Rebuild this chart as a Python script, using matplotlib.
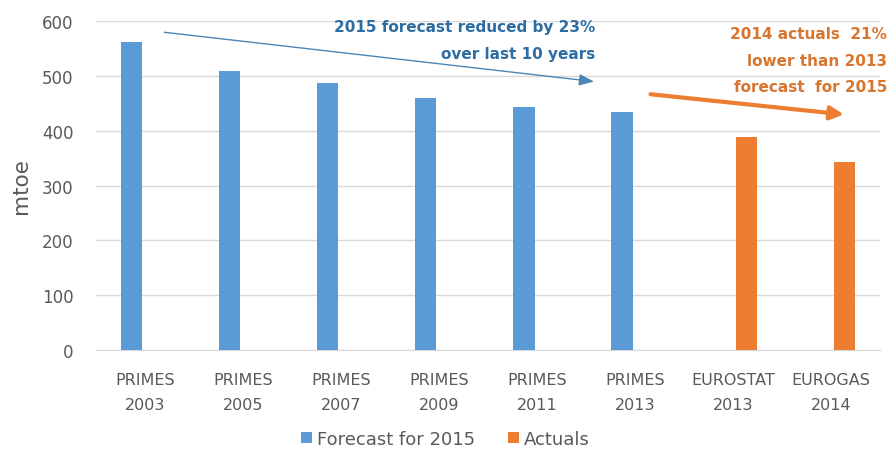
import matplotlib
matplotlib.use("Agg")
import matplotlib.pyplot as plt
import numpy as np

categories = ["PRIMES\n2003", "PRIMES\n2005", "PRIMES\n2007", "PRIMES\n2009",
              "PRIMES\n2011", "PRIMES\n2013", "EUROSTAT\n2013", "EUROGAS\n2014"]
forecast = [562, 509, 487, 460, 443, 434, None, None]
actuals = [None, None, None, None, None, None, 388, 343]
yticks = [0, 100, 200, 300, 400, 500, 600]

plt.rcParams['font.family'] = ['DejaVu Sans']
blue = "#5B9BD5"
orange = "#ED7D31"
gray = "#595959"

fig = plt.figure(figsize=(8.91, 4.64), dpi=100)
ax = fig.add_axes([0.1077, 0.2435, 0.8800, 0.7091])

x = np.arange(len(categories))
w = 0.215
off = 0.133
fx = [xi - off for xi, v in zip(x, forecast) if v is not None]
fv = [v for v in forecast if v is not None]
axx = [xi + off for xi, v in zip(x, actuals) if v is not None]
av = [v for v in actuals if v is not None]
b1 = ax.bar(fx, fv, width=w, color=blue, label="Forecast for 2015", zorder=3)
b2 = ax.bar(axx, av, width=w, color=orange, label="Actuals", zorder=3)

ax.set_xlim(-0.5, len(categories) - 0.5)
ax.set_ylim(0, 600)
ax.set_yticks(yticks)
ax.yaxis.grid(True, color="#D9D9D9", linewidth=1, zorder=0)
ax.set_axisbelow(True)
for s in ["top", "right", "left"]:
    ax.spines[s].set_visible(False)
ax.spines["bottom"].set_color("#D9D9D9")
ax.tick_params(axis="y", length=0, colors=gray, labelsize=12, pad=16)
ax.tick_params(axis="x", length=0, colors=gray, labelsize=11.5, pad=16)
ax.set_xticks(x)
ax.set_xticklabels(categories, linespacing=1.85)
ax.set_ylabel("mtoe", color=gray, fontsize=15.5, labelpad=8)

# Annotations
ax.annotate("", xy=(4.61, 489), xytext=(0.17, 580),
            arrowprops=dict(arrowstyle="-|>,head_length=0.9,head_width=0.35",
                            color="#4A86B8", lw=1.0))
ax.text(4.59, 603, "2015 forecast reduced by 23%\nover last 10 years",
        ha="right", va="top", color="#2E6DA4", fontsize=11,
        fontweight="bold", linespacing=1.95)

ax.annotate("", xy=(7.16, 429), xytext=(5.13, 467),
            arrowprops=dict(arrowstyle="-|>,head_length=0.8,head_width=0.4",
                            color=orange, lw=3.0))
ax.text(7.57, 590, "2014 actuals  21%\nlower than 2013\nforecast  for 2015",
        ha="right", va="top", color="#D8752E", fontsize=11,
        fontweight="bold", linespacing=1.93)

leg = fig.legend(handles=[b1, b2], loc="center", bbox_to_anchor=(0.5, 0.052),
                 ncol=2, frameon=False, fontsize=13, handlelength=0.6,
                 handleheight=0.6, handletextpad=0.3, columnspacing=1.8)
for t in leg.get_texts():
    t.set_color(gray)

fig.savefig("out.png", dpi=100)
